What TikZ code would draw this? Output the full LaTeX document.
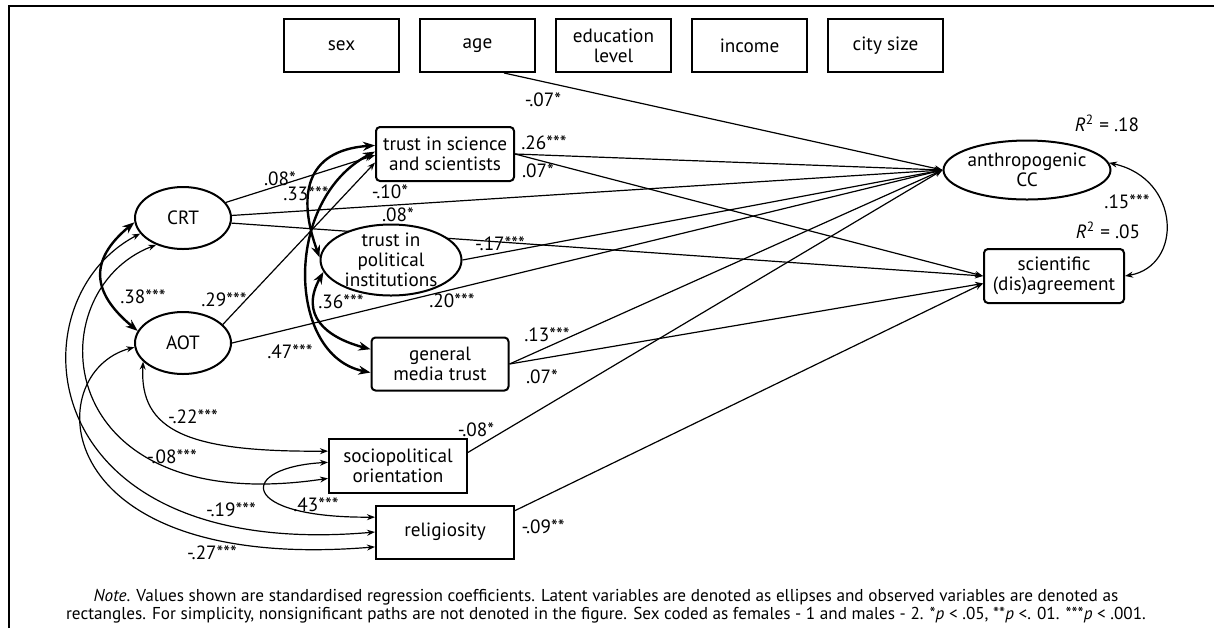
\documentclass[tikz,border=0pt]{standalone}
\usepackage{fontspec}
\setmainfont{PT Sans}
\usetikzlibrary{arrows.meta,shapes.geometric,backgrounds}

\begin{document}
\begin{tikzpicture}[x=0.5pt,y=-0.5pt,
  font=\fontsize{9.6}{10}\selectfont,
  obs/.style={draw,line width=1pt,fill=white,align=center,inner sep=0pt,
    minimum width=69pt,minimum height=27pt},
  med/.style={obs,rounded corners=2pt},
  ctrl/.style={obs,minimum width=57.5pt,minimum height=26.5pt},
  lat/.style={draw,ellipse,line width=1pt,fill=white,align=center,inner sep=0pt},
  path/.style={line width=0.6pt,-{Stealth[length=4pt,width=3pt]}},
  cov/.style={line width=0.6pt,{Stealth[length=4pt,width=3pt]}-{Stealth[length=4pt,width=3pt]}},
  bcov/.style={line width=1.2pt,{Stealth[length=6pt,width=4.5pt]}-{Stealth[length=6pt,width=4.5pt]}},
  coef/.style={inner sep=0pt}]
\useasboundingbox (0,0) rectangle (1214,628);
\draw[line width=0.75pt] (9,628) -- (9,6) -- (1214,6);

% controls
\node[ctrl] (sex) at (341.5,45.5) {sex};
\node[ctrl] (age) at (477.5,45.5) {age};
\node[ctrl] (edu) at (613.5,45.5) {education\\level};
\node[ctrl] (inc) at (749.5,45.5) {income};
\node[ctrl] (city) at (885.5,45.5) {city size};

% predictors and mediators
\node[lat,minimum width=48pt,minimum height=31pt] (crt) at (183,218) {CRT};
\node[lat,minimum width=48pt,minimum height=31pt] (aot) at (183,343) {AOT};
\node[med] (tsc) at (445,154) {trust in science\\and scientists};
\node[lat,minimum width=70.5pt,minimum height=35.5pt,inner sep=-7pt] (pol) at (391,260) {trust in\\political\\institutions};
\node[med,minimum width=68.5pt,minimum height=26.5pt] (gmt) at (440,364) {general\\media trust};
\node[obs] (soc) at (398,466) {sociopolitical\\orientation};
\node[obs,minimum height=26.5pt] (rel) at (445,532) {religiosity};

% outcomes
\node[lat,minimum width=83.5pt,minimum height=29.5pt,inner sep=-2pt] (acc) at (1027,170) {anthropogenic\\CC};
\node[med,minimum width=70pt] (sci) at (1054,276) {scientific\\(dis)agreement};

\begin{scope}[on background layer]
\draw[path] (age.-46) -- (acc.west);
\draw[path] (tsc.east) -- (acc.west);
\draw[path] (tsc.east) -- (sci.west);
\draw[path] (crt.3) -- (acc.west);
\draw[path] (crt.-6) -- (sci.west);
\draw[path] (crt.20) -- (tsc.181);
\draw[path] (aot.25) -- (tsc.187);
\draw[path] (aot.east) -- (acc.west);
\draw[path] (pol.east) -- (acc.west);
\draw[path] (gmt.east) -- (acc.west);
\draw[path] (gmt.east) -- (sci.186);
\draw[path] (soc.11) -- (acc.west);
\draw[path] (rel.17) -- (sci.186);

\draw[bcov] (crt.185) .. controls +(-46,38) and +(-46,-38) .. (aot.165);
\draw[bcov] (pol.178) .. controls +(-22,-60) and +(-71,5) .. (tsc.173);
\draw[bcov] (tsc.178) .. controls +(-92,48) and +(-84,-17) .. (gmt.187);
\draw[bcov] (pol.190) .. controls +(-24,43) and +(-45,-12) .. (gmt.168);

\draw[cov] (aot.205) .. controls +(-4,70) and +(-139,1) .. (soc.168);
\draw[cov] (crt.225) .. controls +(-120,46) and +(-280,42) .. (soc.190);
\draw[cov] (crt.200) .. controls +(-128,67) and +(-345,30) .. (rel.180);
\draw[cov] (aot.185) .. controls +(-95,25) and +(-330,27) .. (rel.192);
\draw[cov] (soc.177) .. controls +(-91,5) and +(-138,1) .. (rel.168);
\draw[cov] (acc.5) .. controls +(72,16) and +(58,-10) .. (sci.east);
\end{scope}

% coefficients
\node[coef] (c1) at (543,100) {-.07*};
\node[coef] (c2) at (544,143) {.26***};
\node[coef] (c3) at (538,171) {.07*};
\node[coef] (c4) at (280,179) {.08*};
\node[coef] (c5) at (306,194) {.33***};
\node[coef] (c6) at (390,192) {-.10*};
\node[coef] (c7) at (398,215) {.08*};
\node[coef] (c8) at (500,244) {-.17***};
\node[coef] (c9) at (143,297) {.38***};
\node[coef] (c10) at (224,300) {.29***};
\node[coef] (c11) at (341,302) {.36***};
\node[coef] (c12) at (452,301) {.20***};
\node[coef] (c13) at (290,352) {.47***};
\node[coef] (c14) at (547,335) {.13***};
\node[coef] (c15) at (542,377) {.07*};
\node[coef] (c16) at (193,417) {-.22***};
\node[coef] (c17) at (476,430) {-.08*};
\node[coef] (c18) at (172,457) {-.08***};
\node[coef] (c19) at (316,505) {.43***};
\node[coef] (c20) at (231,510) {-.19***};
\node[coef] (c21) at (543,527) {-.09**};
\node[coef] (c22) at (212,553) {-.27***};
\node[coef] (r1) at (1107,123) {\textit{R}\textsuperscript{2} = .18};
\node[coef] (c23) at (1127,202) {.15***};
\node[coef] (r2) at (1108,230) {\textit{R}\textsuperscript{2} = .05};

\node[align=center,font=\fontsize{8.6}{9}\selectfont] (note) at (606,606)
 {\textit{Note}. Values shown are standardised regression coefficients. Latent variables are denoted as ellipses and observed variables are denoted as\\
  rectangles. For simplicity, nonsignificant paths are not denoted in the figure. Sex coded as females - 1 and males - 2. *\textit{p} < .05, **\textit{p} <. 01. ***\textit{p} < .001.};
\end{tikzpicture}
\end{document}
